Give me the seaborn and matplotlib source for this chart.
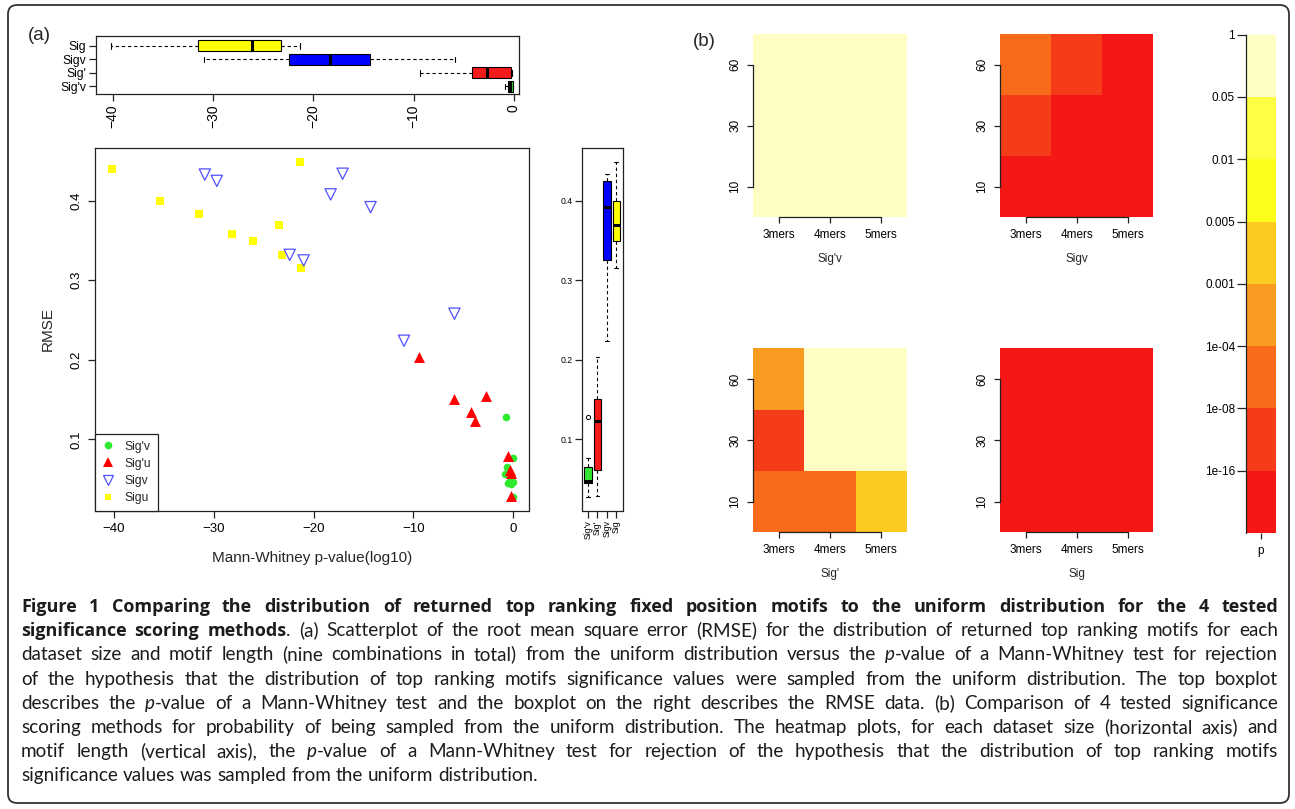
import re
import itertools

import matplotlib
matplotlib.use("Agg")
import matplotlib.pyplot as plt
from matplotlib.colors import ListedColormap
from matplotlib.lines import Line2D
from matplotlib.patches import FancyBboxPatch
import numpy as np
import pandas as pd
import seaborn as sns

W, H = 1295, 809

# ---------------------------------------------------------------- data
methods = ["Sig'v", "Sig'", "Sigv", "Sig"]            # names on boxplots / heatmaps
legend_names = ["Sig'v", "Sig'u", "Sigv", "Sigu"]    # names in the scatter legend
dataset_sizes = [10, 30, 60]
motif_lengths = ["3mers", "4mers", "5mers"]

# one value per (dataset size, motif length) combination, size-major order:
# (10,3) (10,4) (10,5) (30,3) (30,4) (30,5) (60,3) (60,4) (60,5)
log10p = {
    "Sig'v": [-0.75, -0.03, -0.60, -0.85, -0.35, -0.05, -0.50, -0.20, -0.08],
    "Sig'":  [-5.9, -4.2, -2.7, -9.4, -0.5, -0.3, -3.8, -0.25, -0.2],
    "Sigv":  [-30.9, -29.7, -22.4, -10.95, -21.0, -18.3, -5.9, -14.3, -17.1],
    "Sig":   [-40.2, -35.4, -31.5, -28.2, -26.1, -23.5, -23.2, -21.4, -21.3],
}
rmse = {
    "Sig'v": [0.128, 0.076, 0.065, 0.057, 0.047, 0.046, 0.045, 0.044, 0.028],
    "Sig'":  [0.151, 0.135, 0.155, 0.203, 0.079, 0.061, 0.123, 0.058, 0.029],
    "Sigv":  [0.433, 0.425, 0.332, 0.224, 0.325, 0.408, 0.258, 0.392, 0.434],
    "Sig":   [0.440, 0.400, 0.384, 0.358, 0.350, 0.369, 0.332, 0.449, 0.315],
}

# p-value classes of the heatmaps (lowest class first)
p_breaks = [0, 1e-16, 1e-8, 1e-4, 1e-3, 5e-3, 1e-2, 5e-2, 1]
p_break_labels = ["1e-16", "1e-08", "1e-04", "0.001", "0.005", "0.01", "0.05", "1"]
p_colors = ["#f51616", "#f53c18", "#f76b1b", "#f99b20",
            "#fbcb22", "#fefe1c", "#fefe42", "#fefec4"]

box_colors = {"Sig'v": "#33e633", "Sig'": "#f51a1a", "Sigv": "#0000ff", "Sig": "#ffff00"}
caption_lines = [
    "**Figure 1 Comparing the distribution of returned top ranking fixed position motifs to the uniform distribution for the 4 tested**",
    "**significance scoring methods**. (a) Scatterplot of the root mean square error (RMSE) for the distribution of returned top ranking motifs for each",
    "dataset size and motif length (nine combinations in total) from the uniform distribution versus the _p_-value of a Mann-Whitney test for rejection",
    "of the hypothesis that the distribution of top ranking motifs significance values were sampled from the uniform distribution. The top boxplot",
    "describes the _p_-value of a Mann-Whitney test and the boxplot on the right describes the RMSE data. (b) Comparison of 4 tested significance",
    "scoring methods for probability of being sampled from the uniform distribution. The heatmap plots, for each dataset size (horizontal axis) and",
    "motif length (vertical axis), the _p_-value of a Mann-Whitney test for rejection of the hypothesis that the distribution of top ranking motifs",
    "significance values was sampled from the uniform distribution.",
]

rows = []
for m, lab in zip(methods, legend_names):
    for k, (size, length) in enumerate(itertools.product(dataset_sizes, motif_lengths)):
        rows.append({"method": m, "legend": lab, "size": size, "length": length,
                     "log10p": log10p[m][k], "rmse": rmse[m][k]})
df = pd.DataFrame(rows)
df["level"] = np.digitize(10.0 ** df["log10p"], p_breaks[1:-1])

# ---------------------------------------------------------------- style
sns.set_theme(style="ticks")
plt.rcParams["font.family"] = ["Liberation Sans", "DejaVu Sans"]
plt.rcParams.update({
    "axes.edgecolor": "#222222",
    "axes.linewidth": 0.9,
    "xtick.color": "#222222",
    "ytick.color": "#222222",
    "xtick.labelcolor": "black",
    "ytick.labelcolor": "black",
    "xtick.direction": "out",
    "ytick.direction": "out",
    "xtick.major.width": 0.9,
    "ytick.major.width": 0.9,
})

fig = plt.figure(figsize=(W / 100, H / 100), dpi=100)
fig.patch.set_facecolor("white")


def px_axes(l, t, r, b):
    return fig.add_axes([l / W, 1 - b / H, (r - l) / W, (b - t) / H])


def px_text(x, y, s, **kw):
    return fig.text(x / W, 1 - y / H, s, **kw)


box_kws = dict(
    saturation=1, linecolor="black", linewidth=0.8, whis=1.5, dodge=False, legend=False,
    whiskerprops={"linestyle": (0, (3, 2.5))},
    medianprops={"linewidth": 2.2, "color": "black"},
    flierprops={"marker": "o", "markersize": 3, "markerfacecolor": "none",
                "markeredgecolor": "black", "markeredgewidth": 0.7},
)

# ---------------------------------------------------------------- (a) top boxplot
top_order = methods[::-1]
ax_top = px_axes(95.7, 36.2, 519.3, 94)
sns.boxplot(data=df, x="log10p", y="method", hue="method", order=top_order,
            hue_order=top_order, palette=box_colors, orient="h", width=0.8,
            ax=ax_top, **box_kws)
ax_top.set_xlim(-41.7, 0.55)
ax_top.set_ylim(3.56, -0.71)
ax_top.set_xticks([-40, -30, -20, -10, 0])
ax_top.set_xlabel("")
ax_top.set_ylabel("")
ax_top.tick_params(axis="x", labelsize=10, rotation=90, length=5, pad=2.5)
ax_top.tick_params(axis="y", labelsize=8.7, length=5, pad=2)

# ---------------------------------------------------------------- (a) scatter
ax_sc = px_axes(95, 148.3, 529.3, 510.5)
scatter_style = {
    "Sig": dict(marker="s", color="#ffff00", s=38, linewidth=0),
    "Sigv": dict(marker="v", color="#5050ff", s=66, linewidth=0.9),
    "Sig'v": dict(marker="o", color="#2eea2e", s=30, linewidth=0),
    "Sig'": dict(marker="^", color="#ff0000", s=62, linewidth=0),
}
for m in ["Sig", "Sigv", "Sig'v", "Sig'"]:
    sns.scatterplot(data=df[df["method"] == m], x="log10p", y="rmse", ax=ax_sc,
                    legend=False, **scatter_style[m])
    if m == "Sigv":
        coll = ax_sc.collections[-1]
        coll.set_facecolor("none")
        coll.set_edgecolor("#5050ff")
ax_sc.set_xlim(-41.9, 1.6)
ax_sc.set_ylim(0.0105, 0.466)
ax_sc.set_xticks([-40, -30, -20, -10, 0])
ax_sc.set_yticks([0.1, 0.2, 0.3, 0.4])
ax_sc.set_yticklabels(["0.1", "0.2", "0.3", "0.4"], rotation=90, va="center")
ax_sc.tick_params(labelsize=9.5, length=5, pad=4)
ax_sc.set_xlabel("")
ax_sc.set_ylabel("")
px_text(312, 557.7, "Mann-Whitney p-value(log10)", ha="center", va="center", fontsize=11)
px_text(48, 329, "RMSE", ha="center", va="center", rotation=90, fontsize=11)

handles = [
    Line2D([], [], linestyle="none", marker="o", markersize=5.5,
           markerfacecolor="#2eea2e", markeredgewidth=0),
    Line2D([], [], linestyle="none", marker="^", markersize=7,
           markerfacecolor="#ff0000", markeredgewidth=0),
    Line2D([], [], linestyle="none", marker="v", markersize=7,
           markerfacecolor="none", markeredgecolor="#5050ff", markeredgewidth=0.9),
    Line2D([], [], linestyle="none", marker="s", markersize=5,
           markerfacecolor="#ffff00", markeredgewidth=0),
]
leg = ax_sc.legend(handles, legend_names, loc="lower left", bbox_to_anchor=(0, 0),
                   borderaxespad=0, fancybox=False, framealpha=1, edgecolor="#222222",
                   fontsize=8.7, handlelength=1.0, handletextpad=0.9,
                   labelspacing=0.42, borderpad=0.55)
leg.get_frame().set_linewidth(0.9)

# ---------------------------------------------------------------- (a) right boxplot
ax_rb = px_axes(581.7, 148.3, 622.7, 510.5)
sns.boxplot(data=df, x="method", y="rmse", hue="method", order=methods,
            hue_order=methods, palette=box_colors, width=0.78, ax=ax_rb, **box_kws)
ax_rb.set_xlim(-0.67, 3.68)
ax_rb.set_ylim(0.0105, 0.466)
ax_rb.set_yticks([0.1, 0.2, 0.3, 0.4])
ax_rb.set_yticklabels(["0.1", "0.2", "0.3", "0.4"])
ax_rb.set_xlabel("")
ax_rb.set_ylabel("")
ax_rb.tick_params(axis="y", labelsize=6.3, length=5, pad=1.5)
ax_rb.tick_params(axis="x", labelsize=6.3, rotation=90, length=5, pad=2)

px_text(39.5, 35.5, "(a)", ha="center", va="center", fontsize=13.5)
px_text(704, 41.7, "(b)", ha="center", va="center", fontsize=13.5)

# ---------------------------------------------------------------- (b) heatmaps
level_cmap = ListedColormap(p_colors)
heat_boxes = {
    "Sig'v": (753.3, 34, 906.7, 217.3),
    "Sigv": (1000, 34, 1153.3, 217.3),
    "Sig'": (753.3, 348.3, 906.7, 532.3),
    "Sig": (1000, 348.3, 1153.3, 532.3),
}
for m, (l, t, r, b) in heat_boxes.items():
    ax = px_axes(l, t, r, b)
    grid = (df[df["method"] == m]
            .pivot(index="size", columns="length", values="level")
            .loc[dataset_sizes[::-1], motif_lengths])
    sns.heatmap(grid, cmap=level_cmap, vmin=-0.5, vmax=len(p_colors) - 0.5,
                cbar=False, ax=ax)
    ax.set_xlabel("")
    ax.set_ylabel("")
    ax.set_yticklabels([str(s) for s in dataset_sizes[::-1]], rotation=90, va="center")
    ax.set_xticklabels(motif_lengths, rotation=0)
    ax.tick_params(axis="both", labelsize=8.5, length=4.5, width=0.9,
                   left=True, bottom=True, pad=4)
    for side in ("left", "bottom"):
        ax.spines[side].set_visible(True)
        ax.spines[side].set_linewidth(0.9)
        ax.spines[side].set_bounds(0.5, 2.5)
    px_text((l + r) / 2, b + 41.7, m, ha="center", va="center", fontsize=8.5)

# colour key
ax_cb = px_axes(1246, 34.7, 1276, 533)
key = pd.DataFrame({"p": np.arange(len(p_colors))[::-1]})
sns.heatmap(key, cmap=level_cmap, vmin=-0.5, vmax=len(p_colors) - 0.5, cbar=False,
            ax=ax_cb, yticklabels=False)
ax_cb.set_yticks(np.arange(len(p_break_labels)))
ax_cb.set_yticklabels(p_break_labels[::-1], rotation=0)
ax_cb.set_ylabel("")
ax_cb.tick_params(axis="y", labelsize=8.5, length=6.5, width=0.9, left=True, pad=1.5)
ax_cb.tick_params(axis="x", labelsize=8.5, length=4.5, width=0.9, bottom=True, pad=4)
ax_cb.spines["left"].set_visible(True)
ax_cb.spines["left"].set_linewidth(0.9)

# ---------------------------------------------------------------- caption
cap_size = 13.6
renderer = fig.canvas.get_renderer()


def parse_words(line, state):
    words = []
    for raw in line.split(" "):
        segs = []
        for part in re.split(r"(\*\*|_)", raw):
            if part == "**":
                state["bold"] = not state["bold"]
            elif part == "_":
                state["ital"] = not state["ital"]
            elif part:
                segs.append((part, state["bold"], state["ital"]))
        words.append(segs)
    return words


def seg_text(s, bold, ital):
    # the bold heading of the caption is set in a wider face
    family = ["Open Sans", "DejaVu Sans"] if bold else ["Lato", "DejaVu Sans"]
    return fig.text(0, 0, s, fontsize=cap_size - (0.6 if bold else 0), family=family,
                    weight="bold" if bold else "normal",
                    style="italic" if ital else "normal",
                    color="#1c1c1c", va="baseline")


probe_a = seg_text("x x", False, False)
probe_b = seg_text("xx", False, False)
space_px = (probe_a.get_window_extent(renderer).width
            - probe_b.get_window_extent(renderer).width)
probe_a.remove()
probe_b.remove()

x0, x1 = 21, 1278
state = {"bold": False, "ital": False}
for i, line in enumerate(caption_lines):
    y = 612 + 24.2 * i
    words = parse_words(line, state)
    placed = []
    for segs in words:
        arts = [seg_text(*sg) for sg in segs]
        widths = [a.get_window_extent(renderer).width for a in arts]
        placed.append((arts, widths))
    total = sum(sum(w) for _, w in placed)
    last = i == len(caption_lines) - 1
    gap = space_px if last else (x1 - x0 - total) / (len(placed) - 1)
    x = x0
    for arts, widths in placed:
        for a, w in zip(arts, widths):
            a.set_position((x / W, 1 - y / H))
            x += w
        x += gap

# outer frame
frame = FancyBboxPatch((8 / 100, (H - 803) / 100), (1289 - 8) / 100, (803 - 5) / 100,
                       boxstyle="round,pad=0,rounding_size=0.09",
                       transform=fig.dpi_scale_trans, fill=False,
                       edgecolor="#333333", linewidth=1.3)
fig.add_artist(frame)

fig.savefig("out.png", dpi=100)
